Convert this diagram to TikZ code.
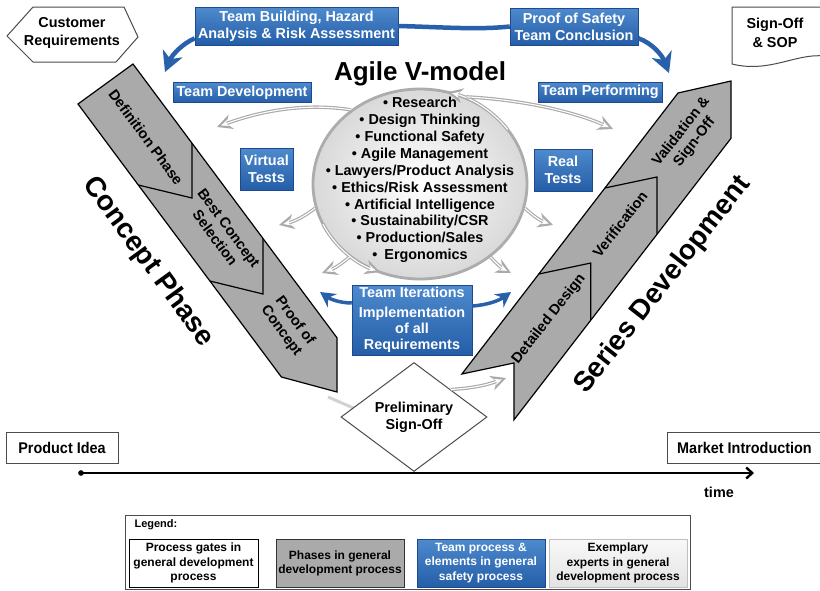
\documentclass[tikz,border=0pt]{standalone}
\usepackage{fontspec}
\setmainfont{Liberation Sans}
\newfontfamily\narrowfont[FakeStretch=0.93]{Liberation Sans}
\usetikzlibrary{arrows.meta,shapes.geometric,calc}
\definecolor{bluetop}{RGB}{78,138,205}
\definecolor{bluebot}{RGB}{36,94,168}
\definecolor{blueedge}{RGB}{28,74,140}
\definecolor{bluearr}{RGB}{40,96,172}
\definecolor{bandgray}{RGB}{170,170,170}
\definecolor{arrgray}{RGB}{170,170,170}
\begin{document}
\begin{tikzpicture}[x=1pt,y=1pt,
  f144/.style={font=\bfseries\fontsize{14.4}{17}\selectfont},
  bluebox/.style={rectangle, draw=blueedge, line width=0.5pt, top color=bluetop, bottom color=bluebot,
     text=white, f144, align=center, inner sep=0pt},
  band/.style={fill=bandgray, draw=black, line width=1.2pt, line join=miter},
  divider/.style={draw=black, line width=1.2pt},
  bandtxt/.style={font=\bfseries\fontsize{14.6}{17}\selectfont, align=center, text=black},
  bigtxt/.style={font=\bfseries\fontsize{28}{32}\selectfont},
  gatebox/.style={rectangle, draw=black!70, line width=0.9pt, fill=white, inner sep=0pt},
  garrow/.style={draw=arrgray, line width=3.4pt, -{Stealth[length=15pt,width=15pt,inset=5pt]},
     postaction={draw=white, line width=1.1pt, shorten >=4.5pt, -{Stealth[length=7.5pt,width=6.5pt,inset=2.5pt]}}},
  barrow/.style={draw=bluearr, line width=4.5pt, -{Stealth[length=20pt,width=21pt,inset=6pt]}},
  sbarrow/.style={draw=bluearr, line width=3.5pt, -{Stealth[length=15pt,width=16pt,inset=5pt]}},
  legtxt/.style={font=\bfseries\fontsize{12}{14.2}\selectfont, align=center}
]
\useasboundingbox (0,0) rectangle (820,-590);
\fill[white] (0,0) rectangle (820,-590);

% ---------------- Left band (Concept Phase)
\coordinate (LA) at (78,-104);
\coordinate (LB) at (133,-64);
\coordinate (LR1) at (192,-143.2);
\coordinate (LR2) at (263,-238.5);
\coordinate (LR3) at (337,-337.8);
\coordinate (LT) at (337,-392);
\coordinate (LL3) at (281.4,-377);
\coordinate (LL2) at (209.9,-281);
\coordinate (LL1) at (138.3,-185);
\coordinate (LT1) at (192,-198);
\coordinate (LT2) at (263,-294);
\path[band] (LA) -- (LB) -- (LR1) -- (LR2) -- (LR3) -- (LT) -- (LL3) -- (LL2) -- (LL1) -- cycle;
\draw[divider] (LL1) -- (LT1) -- (LR1);
\draw[divider] (LL2) -- (LT2) -- (LR2);
\node[bandtxt, rotate=-53.5] (defph) at (146,-137) {Definition Phase};
\node[bandtxt, rotate=-53.5] (bestc) at (222,-233) {Best Concept\\Selection};
\node[bandtxt, rotate=-53.5] (proofc) at (288,-326) {Proof of\\Concept};
\node[bigtxt, rotate=-54] (cph) at (148,-262) {Concept Phase};

% ---------------- Right band (Series Development)
\coordinate (RU0) at (461.9,-374);
\coordinate (RT0) at (513.9,-363);
\coordinate (RD0) at (513.9,-419.9);
\coordinate (RU1) at (538.8,-274);
\coordinate (RT1) at (590.8,-263);
\coordinate (RD1) at (590.8,-319.9);
\coordinate (RU2) at (604.9,-188);
\coordinate (RT2) at (656.9,-177);
\coordinate (RD2) at (656.9,-234);
\coordinate (RU3) at (678,-93);
\coordinate (RT3) at (731,-81);
\coordinate (RD3) at (731,-138.3);
\path[band] (RU0) -- (RU3) -- (RT3) -- (RD3) -- (RD0) -- (RT0) -- cycle;
\draw[divider] (RU1) -- (RT1) -- (RD1);
\draw[divider] (RU2) -- (RT2) -- (RD2);
\node[bandtxt, rotate=52] (detd) at (549,-319) {Detailed Design};
\node[bandtxt, rotate=52] (verif) at (620,-224) {Verification};
\node[bandtxt, rotate=52] (valid) at (688,-137) {Validation \&\\Sign-Off};
\node[bigtxt, rotate=52] (sdev) at (663,-285) {Series Development};

% ---------------- Central circle
\node[ellipse, minimum width=214pt, minimum height=190pt, draw=gray!65, line width=2.8pt,
      inner color=white, outer color=gray!30] (ring) at (420,-184) {};
\draw[garrow] (ring.center) ++(35:107pt and 95pt) arc[start angle=35, end angle=75, x radius=107pt, y radius=95pt];
\draw[garrow] (ring.center) ++(205:107pt and 95pt) arc[start angle=205, end angle=248, x radius=107pt, y radius=95pt];
\node[f144, align=center, font=\bfseries\fontsize{14.4}{16.9}\selectfont] (experts) at (420,-180)
 {• Research\\• Design Thinking\\• Functional Safety\\• Agile Management\\• Lawyers/Product Analysis\\
  • Ethics/Risk Assessment\\• Artificial Intelligence\\• Sustainability/CSR\\• Production/Sales\\•\hspace{7pt}Ergonomics};

\node[bigtxt, font=\bfseries\fontsize{26}{30}\selectfont, anchor=base] (title) at (420,-80) {Agile V-model};

% gray arrows from circle
\coordinate (tTD) at (217,-127);
\coordinate (tTP) at (613,-129);
\coordinate (tVL) at (279,-225);
\coordinate (tVR) at (553,-225);
\coordinate (tLL) at (322,-273);
\coordinate (tLR) at (511,-273);
\draw[garrow] (ring.133) .. controls (300,-102) and (255,-113) .. (tTD);
\draw[garrow] (ring.62) .. controls (525,-100) and (575,-112) .. (tTP);
\draw[garrow] (ring.193) to[bend left=12] (tVL);
\draw[garrow] (ring.347) to[bend right=12] (tVR);
\draw[garrow] (ring.226) to[bend left=10] (tLL);
\draw[garrow] (ring.314) to[bend right=10] (tLR);

% ---------------- Blue boxes
\node[bluebox, minimum width=203pt, minimum height=38pt] (tb) at (296.5,-26) {Team Building, Hazard\\Analysis \& Risk Assessment};
\node[bluebox, minimum width=128pt, minimum height=37pt] (ps) at (574,-26.5) {Proof of Safety\\Team Conclusion};
\node[bluebox, minimum width=138pt, minimum height=20pt] (td) at (242,-92.5) {Team Development};
\node[bluebox, minimum width=124pt, minimum height=20pt] (tpf) at (600,-92) {Team Performing};
\node[bluebox, minimum width=53pt, minimum height=42pt] (vt) at (266.5,-169) {Virtual\\Tests};
\node[bluebox, minimum width=58pt, minimum height=42pt] (rt) at (563,-170) {Real\\Tests};
\node[bluebox, minimum width=120pt, minimum height=70pt, font=\bfseries\fontsize{14.4}{16}\selectfont] (ti) at (412,-320)
  {Team Iterations\\[4pt]Implementation\\of all\\Requirements};

% blue arrows
\coordinate (tipL) at (165,-72);
\coordinate (tipR) at (669,-73);
\draw[draw=bluearr, line width=4.5pt] (tb.east) .. controls (440,-27) and (478,-30) .. (ps.west);
\draw[barrow] ([yshift=7pt]tb.south west) .. controls (182,-44) and (172,-55) .. (tipL);
\draw[barrow] ([yshift=7pt]ps.south east) .. controls (652,-43) and (662,-55) .. (tipR);
\coordinate (tiL) at (320,-292);
\coordinate (tiR) at (511,-292);
\draw[sbarrow] ([yshift=17pt]ti.west) .. controls (340,-303) and (330,-299) .. (tiL);
\draw[sbarrow] ([yshift=14pt]ti.east) .. controls (488,-305) and (500,-300) .. (tiR);

% ---------------- Gates
\coordinate (gin) at (328,-397);
\draw[draw=gray!35, line width=3pt] (gin) -- (358,-410);
\node[diamond, draw=black!70, line width=1pt, fill=white, minimum width=146pt, minimum height=80pt, inner sep=0pt,
      f144, align=center] (pso) at (414,-417) {Preliminary\\Sign-Off};
\coordinate (tDR) at (506,-378);
\draw[garrow] (pso.north east) to[bend right=8] (tDR);

\draw[fill=white, draw=black!70, line width=1pt] (7,-36) -- (33,-7) -- (124,-7) -- (138,-37) -- (116,-62) -- (33,-62) -- cycle;
\node[f144, align=center, font=\bfseries\fontsize{14.4}{18}\selectfont] (cr) at (72,-33) {Customer\\Requirements};

\draw[fill=white, draw=black!70, line width=1pt] (732,-7) -- (830,-7) -- (830,-57) .. controls (800,-50) and (772,-74) .. (732,-64) -- cycle;
\node[f144, align=center, font=\bfseries\fontsize{14.4}{19}\selectfont] (sop) at (775,-33) {Sign-Off\\\& SOP};

\node[gatebox, minimum width=112pt, minimum height=31pt, font=\narrowfont\bfseries\fontsize{15.5}{18}\selectfont] (pi) at (62,-447.5) {Product Idea};
\node[gatebox, minimum width=155pt, minimum height=31pt, font=\narrowfont\bfseries\fontsize{15.5}{18}\selectfont] (mi) at (744.5,-447.5) {Market Introduction};

% time axis
\node[circle, fill=black, inner sep=2pt] (t0) at (81,-473) {};
\coordinate (t1) at (754,-473);
\draw[line width=2.6pt, -{Straight Barb[length=6pt,width=11pt,line width=2.4pt]}] (t0.center) -- (t1);
\node[f144] (time) at (719,-492) {time};

% ---------------- Legend
\node[draw=black!70, line width=0.9pt, minimum width=565pt, minimum height=74pt, inner sep=0pt] (leg) at (407.5,-552) {};
\node[anchor=west, font=\bfseries\fontsize{11}{13}\selectfont] (legt) at (131,-525) {Legend:};
\node[draw=black, line width=0.9pt, fill=white, minimum width=129pt, minimum height=48pt, inner sep=0pt, legtxt] (lg1) at (193.5,-563) {Process gates in\\general development\\process};
\node[draw=black!80, line width=0.9pt, fill=bandgray, minimum width=128pt, minimum height=48pt, inner sep=0pt, legtxt] (lg2) at (340,-563) {Phases in general\\development process};
\node[bluebox, minimum width=128pt, minimum height=48pt, legtxt] (lg3) at (481,-563) {Team process \&\\elements in general\\safety process};
\node[draw=gray!50, line width=0.6pt, top color=gray!5, bottom color=gray!22, minimum width=138pt, minimum height=48pt, inner sep=0pt, legtxt] (lg4) at (618,-563) {Exemplary\\experts in general\\development process};
\end{tikzpicture}
\end{document}
